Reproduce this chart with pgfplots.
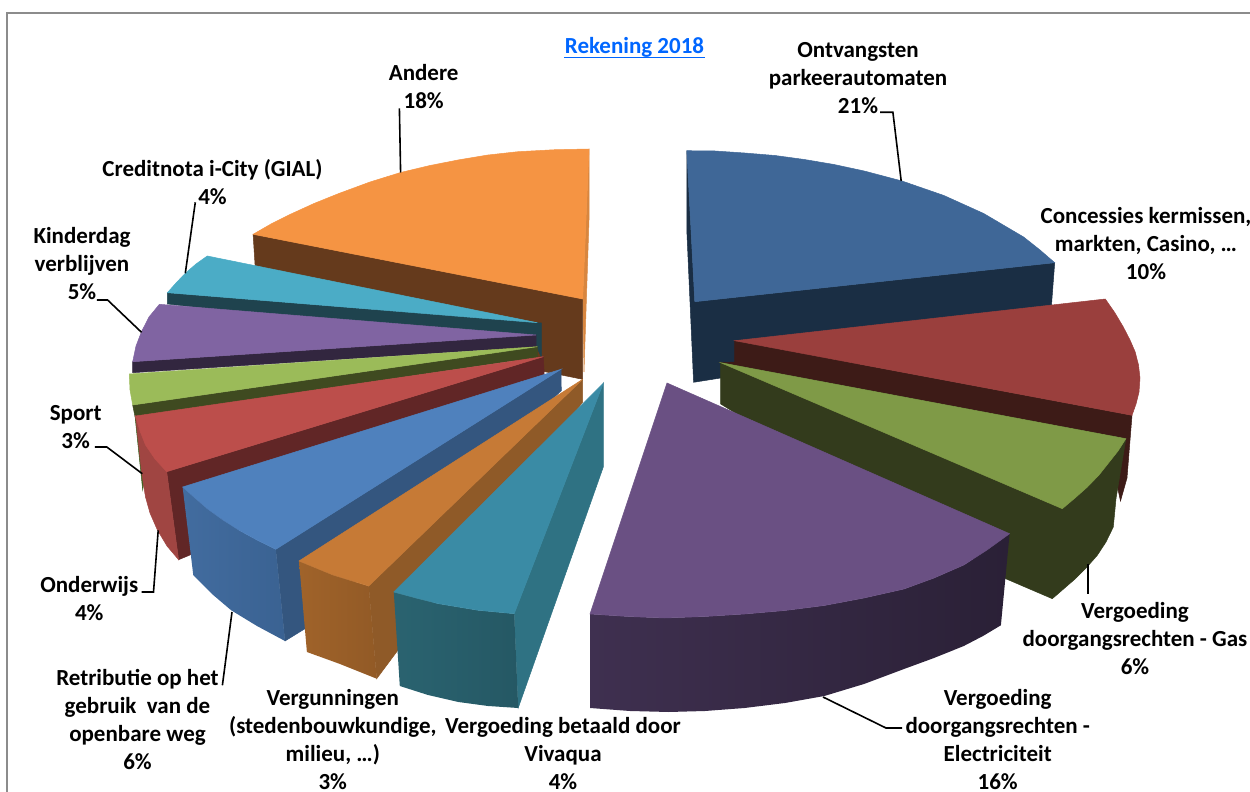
\documentclass[border=0pt]{standalone}
\usepackage{pgfplots}
\pgfplotsset{compat=1.18}
\usepackage{fontspec}
\setmainfont{Carlito}
\definecolor{andT}{HTML}{F59443}\definecolor{andS}{HTML}{653A1C}\definecolor{andE}{HTML}{D8863F}
\definecolor{creT}{HTML}{4BACC6}\definecolor{creS}{HTML}{1F434E}
\definecolor{kinT}{HTML}{8064A2}\definecolor{kinS}{HTML}{32263F}
\definecolor{spoT}{HTML}{9BBB59}\definecolor{spoS}{HTML}{3F4A20}\definecolor{spoE}{HTML}{3F6020}
\definecolor{ondT}{HTML}{BC4E4B}\definecolor{ondS}{HTML}{612626}\definecolor{ondO}{HTML}{A04542}
\definecolor{retT}{HTML}{4F81BD}\definecolor{retS}{HTML}{34567F}\definecolor{retL}{HTML}{426C9F}\definecolor{retR}{HTML}{3A6292}
\definecolor{verT}{HTML}{C67A36}\definecolor{verS}{HTML}{8F5A28}\definecolor{verL}{HTML}{A0632A}\definecolor{verR}{HTML}{925A26}
\definecolor{vivT}{HTML}{3A8BA5}\definecolor{vivS}{HTML}{2F7283}\definecolor{vivL}{HTML}{2A6370}\definecolor{vivR}{HTML}{255864}
\definecolor{ontT}{HTML}{3F6797}\definecolor{ontS}{HTML}{1A2E44}
\definecolor{conT}{HTML}{9A3F3D}\definecolor{conS}{HTML}{3D1B17}
\definecolor{gasT}{HTML}{7F9A47}\definecolor{gasS}{HTML}{333B1C}
\definecolor{eleT}{HTML}{6A5083}\definecolor{eleL}{HTML}{3F3050}\definecolor{eleR}{HTML}{2A2036}
\definecolor{titleblue}{HTML}{0066FF}
\newcommand{\poly}[2]{\addplot[draw=#1,line width=0.25pt,fill=#1,forget plot,mark=none] coordinates {#2} -- cycle;}
\newcommand{\gpoly}[3]{\addplot[draw=none,left color=#1,right color=#2,forget plot,mark=none] coordinates {#3} -- cycle;}
\newcommand{\lead}[1]{\addplot[black,line width=0.8pt,forget plot,mark=none] coordinates {#1};}
\newcommand{\lab}[3]{\node[align=center,inner sep=0pt,font=\fontsize{11.5pt}{14pt}\selectfont\bfseries,text=black] at (axis cs:#1,#2) {#3};}
\begin{document}
\begin{tikzpicture}
\begin{axis}[scale only axis,width=625pt,height=396pt,xmin=0,xmax=1250,ymin=0,ymax=792,y dir=reverse,hide axis,clip=true]
% frame
\addplot[draw=black!45,line width=1pt,forget plot,mark=none] coordinates {(7,792)(7,13)(1250,13)};
% Andere
\poly{andE}{(589,149)(589,220)(584,372)(582.7,299)}
\poly{andS}{(253.1,234.3)(582.7,299)(582.7,379.3)(545,371.7)(255.1,265.7)}
\poly{andT}{(589,149)(555,149.7)(518,151.7)(488,155)(458,160)(430,165.5)(400.6,172.5)(370,182)(338.8,193.5)(314,203.5)(291,214)(271,224)(253.1,234.3)(582.7,299)}
% Creditnota
\poly{creS}{(167.4,292.7)(537.3,322.7)(541.3,323)(541.3,356.7)(536,346)(167.4,304)}
\poly{creT}{(207.3,256)(196,264)(185.3,273.3)(176,283)(167.4,292.7)(537.3,322.7)}
% Kinderdag
\poly{kinS}{(132.7,361.7)(536,335)(536,346.7)(132.7,372.7)}
\poly{kinT}{(159.4,304.3)(149,317)(141.5,331.7)(136,346)(132.7,361.7)(536,335)}
% Sport
\poly{spoE}{(135,416)(142.7,490)(146,470)}
\poly{spoS}{(132.7,405)(537.3,346.7)(537.3,357.3)(135,416.7)}
\poly{spoT}{(129.3,374)(130,390)(132.7,405)(537.3,346.7)}
% Onderwijs
\poly{ondS}{(166.7,471.7)(543.3,356.7)(544.3,375)(189.3,555.3)(178.6,559.7)}
\poly{ondO}{(135.5,416)(141.7,473)(145.5,497)(150,513)(157.4,530)(167,546)(178.6,559.7)(166.7,471.7)}
\poly{ondT}{(135.5,416)(140,431)(145.5,445)(155,459)(166.7,471.7)(543.3,356.7)}
% Retributie
\poly{retS}{(275.8,549.3)(561,369.3)(561.3,390.7)(305,628.7)(285,641)}
\gpoly{retL}{retR}{(182.6,487)(195,498)(207.3,508.7)(223,520)(239.2,530.3)(257,540)(275.8,549.3)(285,641)(257,626)(231.2,610.3)(212,594)(193.3,575.3)}
\poly{retT}{(182.6,487)(195,498)(207.3,508.7)(223,520)(239.2,530.3)(257,540)(275.8,549.3)(561,369.3)}
% Vergunningen
\poly{verS}{(368.7,586)(582.7,379.3)(582.7,402)(376.7,678.7)}
\gpoly{verL}{verR}{(299,561)(333,575)(368.7,586)(376.7,678.7)(340,664)(306.9,652)}
\poly{verT}{(299,561)(333,575)(368.7,586)(582.7,379.3)}
% Vivaqua
\poly{vivS}{(514.2,613.7)(603.3,383.3)(603.3,467)(518.2,708)}
\gpoly{vivL}{vivR}{(393.8,592)(416,598)(438.5,603.7)(478.3,610.3)(514.2,613.7)(518.2,708)(488,706)(458.4,702)(428,695)(399.8,686)}
\poly{vivT}{(393.8,592)(416,598)(438.5,603.7)(478.3,610.3)(514.2,613.7)(603.3,383.3)}
% Ontvangsten
\poly{ontS}{(686.8,150.7)(694.8,301.7)(1054.7,262.7)(1051.5,305)(1040,345)(720.7,378)(693.6,382.3)(686.8,230)}
\poly{ontT}{(686.8,150.7)(715,151)(744.6,153)(775,155.5)(804.4,159.5)(834,164.5)(864.2,171)(902,181)(943.9,195.5)(983.7,213.5)(1023.6,237)(1040,250)(1054.7,262.7)(694.8,301.7)}
% Concessies
\poly{conS}{(734.6,340.7)(1132,415.3)(1127,478)(1120.5,501)(1116,480)(1125.9,438.7)(720.7,362.7)(734.6,362)}
\poly{conT}{(1105.3,299)(1115,313)(1123.3,327)(1130,340)(1135.2,352)(1138.5,365)(1140,378)(1139,392)(1136,404)(1132,415.3)(734.6,340.7)}
% Gas
\poly{gasS}{(720.7,362.7)(1125.9,438.7)(1116,498.7)(1113.3,527)(1106,542)(1097.3,555.3)(1087,567)(1075.4,578.7)(1052.3,598.7)(1005.7,578.7)(720.7,404)}
\poly{gasT}{(720.7,362.7)(1125.9,438.7)(1118,451)(1109.3,462)(1099,475)(1087.4,487)(1075,498)(1062.3,508.7)}
% Electriciteit
\gpoly{eleL}{eleR}{(590,614)(628,616.5)(664.9,618)(705,616.5)(744.6,614)(785,610.5)(824.3,605.5)(864,598)(904,589)(934,578)(963.8,565)(987,550)(1009.6,533.7)(1000.9,625.3)(983,636)(963.8,646)(934,658)(904,669)(864,684)(824.3,696)(785,703)(744.6,708)(705,711)(668.8,712)(630,711)(590,708)}
\poly{eleT}{(590,614)(628,616.5)(664.9,618)(705,616.5)(744.6,614)(785,610.5)(824.3,605.5)(864,598)(904,589)(934,578)(963.8,565)(987,550)(1009.6,533.7)(667,383)}
% leaders
\lead{(399.4,108.3)(400.6,172.5)}
\lead{(880,112.3)(892.9,112.3)(901.2,181)}
\lead{(195.3,202.3)(185.3,273.3)}
\lead{(96.9,300)(107.6,300)(141.5,332.3)}
\lead{(94.9,447)(106.8,447)(142.3,473.7)}
\lead{(141.5,592)(153.5,592)(158.2,530.3)}
\lead{(222.4,685.3)(232,612)}
\lead{(1088.2,563.7)(1088.2,594.3)}
\lead{(823,697)(886,728)(902,728)}
% title
\node[inner sep=0pt,font=\fontsize{11.5pt}{14pt}\selectfont\bfseries,text=titleblue] at (axis cs:634.5,47.5) {Rekening 2018};
\addplot[titleblue,line width=0.9pt,forget plot,mark=none] coordinates {(564,57.5)(705,57.5)};
% labels
\lab{423.7}{86.7}{Andere\\18\%}
\lab{858}{78}{Ontvangsten\\parkeerautomaten\\21\%}
\lab{1146}{244}{Concessies kermissen,\\markten, Casino, …\\10\%}
\lab{212.5}{182}{Creditnota i-City (GIAL)\\4\%}
\lab{82}{264}{Kinderdag\\verblijven\\5\%}
\lab{75.7}{427}{Sport\\3\%}
\lab{89.3}{599}{Onderwijs\\4\%}
\lab{137.5}{720}{Retributie op het\\gebruik~ van de\\openbare weg\\6\%}
\lab{332.8}{740}{Vergunningen\\(stedenbouwkundige,\\milieu, …)\\3\%}
\lab{563}{754}{Vergoeding betaald door\\Vivaqua\\4\%}
\lab{1135}{639}{Vergoeding\\doorgangsrechten - Gas\\6\%}
\lab{997.7}{740}{Vergoeding\\doorgangsrechten -\\Electriciteit\\16\%}
\end{axis}
\useasboundingbox (0,0) rectangle (625pt,396pt);
\end{tikzpicture}
\end{document}
